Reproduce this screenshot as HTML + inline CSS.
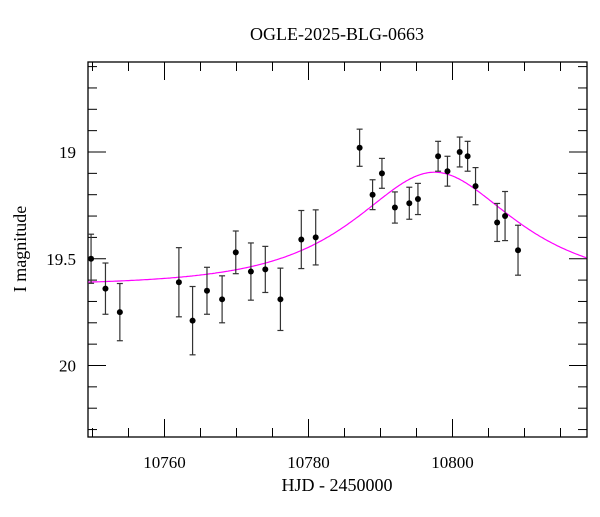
<!DOCTYPE html>
<html><head><meta charset="utf-8"><style>
body{margin:0;background:#fff;}
svg text{font-family:"Liberation Serif",serif;fill:#000;}
</style></head><body>
<svg id="chart" width="600" height="512" xmlns="http://www.w3.org/2000/svg">
<text x="337" y="40" font-size="18" text-anchor="middle">OGLE-2025-BLG-0663</text>
<text x="337" y="491" font-size="18" text-anchor="middle">HJD - 2450000</text>
<text x="26" y="249" font-size="18" text-anchor="middle" transform="rotate(-90 26 249)">I magnitude</text>
<g id="axes"></g><g id="model"></g><g id="pts"></g>
</svg>
<script>
const times=[10749.8,10751.8,10753.8,10762.0,10763.9,10765.9,10768.0,10769.9,10772.0,10774.0,10776.1,10779.0,10781.0,10787.1,10788.9,10790.2,10792.0,10794.0,10795.2,10798.0,10799.3,10801.0,10802.1,10803.2,10806.2,10807.3,10809.1];
const mags=[19.50,19.64,19.75,19.61,19.79,19.65,19.69,19.47,19.56,19.55,19.69,19.41,19.40,18.98,19.20,19.10,19.26,19.24,19.22,19.02,19.09,19.00,19.02,19.16,19.33,19.30,19.46];
const errs=[0.115,0.12,0.134,0.162,0.16,0.11,0.11,0.10,0.134,0.108,0.146,0.136,0.129,0.087,0.07,0.07,0.073,0.075,0.073,0.07,0.07,0.07,0.07,0.087,0.089,0.115,0.117];
const xTicks=[10760,10780,10800];
const yTicks=[19,19.5,20];
const modelParams=[10797.5,0.73,15.7,19.625]; // t0,u0,tE,baseline
const L=88,R=587,T=62,B=437;
const x=t=>164.5+(t-10760)*7.2;
const y=m=>152+(m-19)*213.5;
const tMin=10749.4,tMax=10818.7;
const ns="http://www.w3.org/2000/svg";
function mk(tag,attrs,parent){const e=document.createElementNS(ns,tag);for(const k in attrs)e.setAttribute(k,attrs[k]);parent.appendChild(e);return e;}
const axes=document.getElementById('axes');
const frame=mk('rect',{x:L,y:T,width:R-L,height:B-T,fill:'none',stroke:'#000','stroke-width':1.3},axes);


for(let t=10750;t<=tMax;t+=5){const maj=t%20===0;const len=maj?18:9;
 const a=mk('line',{x1:x(t),x2:x(t),y1:B,y2:B-len,stroke:'#000'},axes);
 
 const b=mk('line',{x1:x(t),x2:x(t),y1:T,y2:T+len,stroke:'#000'},axes);
 }
for(let i=0;i<=17;i++){const m=18.6+i*0.1;const yy=y(m);if(yy<T||yy>B)continue;const maj=Math.abs((m*2)-Math.round(m*2))<1e-6;const len=maj?18:9;
 const a=mk('line',{x1:L,x2:L+len,y1:yy,y2:yy,stroke:'#000'},axes);
 
 const b=mk('line',{x1:R,x2:R-len,y1:yy,y2:yy,stroke:'#000'},axes);
 }
xTicks.forEach(t=>{const e=mk('text',{x:x(t),y:B+31,'font-size':17,'text-anchor':'middle'},axes);e.textContent=t;
 });
yTicks.forEach(m=>{const e=mk('text',{x:76,y:y(m)+6,'font-size':17,'text-anchor':'end'},axes);e.textContent=m;
 });
const [t0,u0,tE,base]=modelParams;
function modelMag(t){const u=Math.sqrt(u0*u0+((t-t0)/tE)**2);const A=(u*u+2)/(u*Math.sqrt(u*u+4));return base-2.5*Math.log10(A);}
let d='';for(let t=tMin;t<=tMax;t+=0.2){d+=(d?'L':'M')+x(t).toFixed(1)+','+y(modelMag(t)).toFixed(1);}
const path=mk('path',{d:d,fill:'none',stroke:'#ff00ff','stroke-width':1.2},document.getElementById('model'));


const pts=document.getElementById('pts');
times.forEach((t,i)=>{const cx=x(t),m=mags[i],e=errs[i];
 const g=mk('g',{},pts);
 
 
 mk('line',{x1:cx,x2:cx,y1:y(m-e),y2:y(m+e),stroke:'#333','stroke-width':1.2},g);
 mk('line',{x1:cx-3,x2:cx+3,y1:y(m-e),y2:y(m-e),stroke:'#333','stroke-width':1.2},g);
 mk('line',{x1:cx-3,x2:cx+3,y1:y(m+e),y2:y(m+e),stroke:'#333','stroke-width':1.2},g);
 mk('circle',{cx:cx,cy:y(m),r:3,fill:'#000'},g);});
</script>
</body></html>
